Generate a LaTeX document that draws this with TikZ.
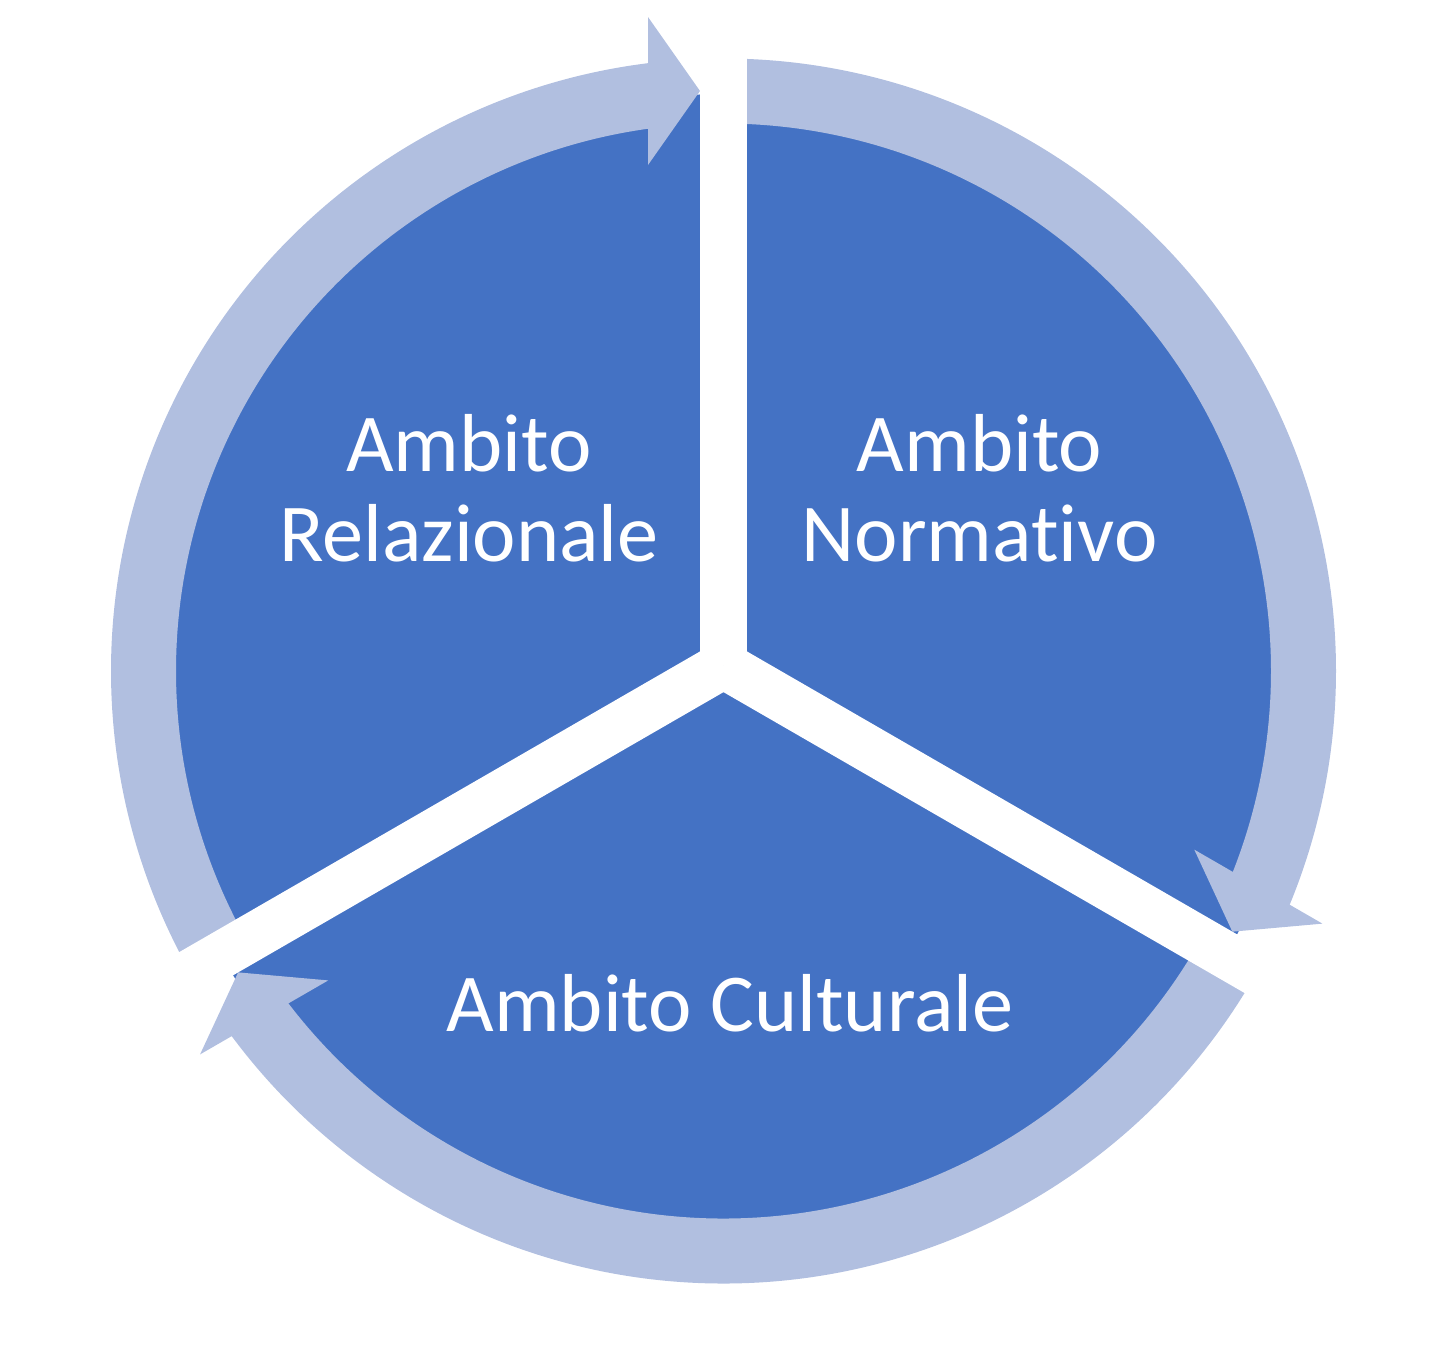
\documentclass[tikz,border=0pt]{standalone}
\usepackage{fontspec}
\setmainfont{Carlito}[Ligatures=NoCommon]
\usetikzlibrary{calc}
\definecolor{ambito}{HTML}{4472C4}
\definecolor{anello}{RGB}{177,191,224}
\begin{document}
\begin{tikzpicture}[line width=0.6pt,
    settore/.style={fill=ambito},
    freccia/.style={fill=anello},
    taglio/.style={draw=white,line width=0.47cm},
    etichetta/.style={text=white,inner sep=0pt,align=center,font=\fontsize{23.4}{25.7}\selectfont}]
  \useasboundingbox (-7.235,-6.73) rectangle (7.235,6.71);
  \coordinate (O) at (0,0);
  \coordinate (G) at (0,0.06);
  \fill[settore] (O) circle(5.77);
  % frecce dell'anello
  \foreach \a in {90,-30,-150}{
    \fill[freccia] (\a+120:6.125) arc[start angle=\a+120,end angle=\a+6,radius=6.125]
      -- (\a+6:5.475) arc[start angle=\a+6,end angle=\a+120,radius=5.475] -- cycle;
    \fill[freccia] ($(G)+(\a:6.48)+(\a+90:0.755)$) -- ($(G)+(\a:5.74)+(\a+90:0.235)$)
      -- ($(G)+(\a:5.00)+(\a+90:0.755)$) -- cycle;
  }
  \foreach \a in {90,-30,-150}
    \draw[taglio] (G) -- ++(\a:7);
  \node[etichetta,anchor=south] (rel) at (-2.545,1.08) {Ambito\\Relazionale};
  \node[etichetta,anchor=south] (norm) at (2.56,1.08) {Ambito\\Normativo};
  \node[etichetta,anchor=base] (cult) at (0.065,-3.60) {Ambito Culturale};
\end{tikzpicture}
\end{document}
